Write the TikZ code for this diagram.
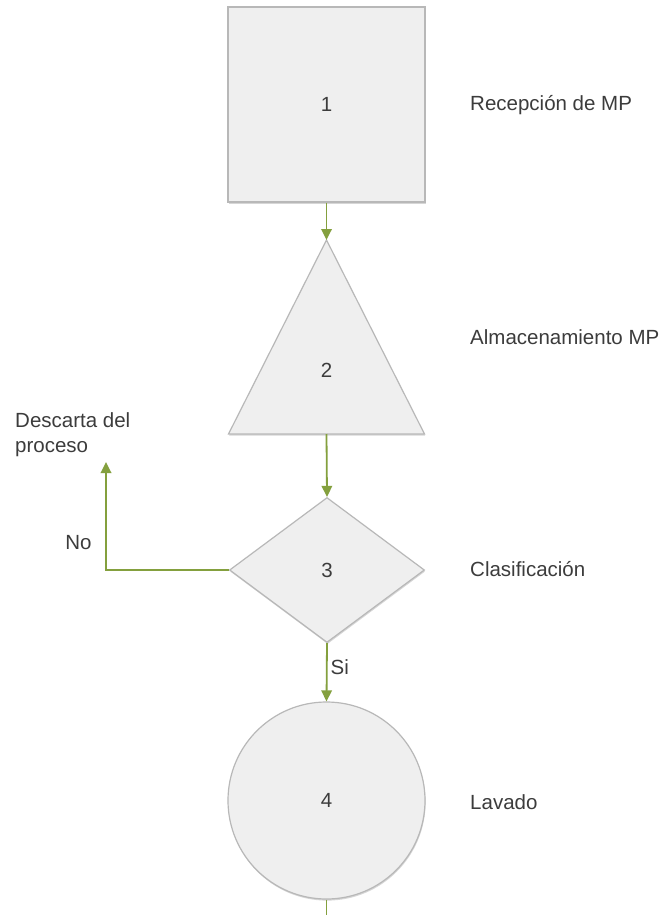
\documentclass[tikz,border=0pt]{standalone}
\usepackage{fontspec}
\setmainfont{Liberation Sans}
\usetikzlibrary{arrows.meta,shapes.geometric,shadows}
\definecolor{flowgreen}{HTML}{84A03E}
\definecolor{shapefill}{HTML}{EFEFEF}
\definecolor{shapeline}{HTML}{B8B8B8}
\definecolor{labeltext}{HTML}{3C3C3C}
\begin{document}
\begin{tikzpicture}[x=1pt,y=-1pt,
  labelfont/.style={font=\fontsize{20.5}{25}\selectfont},
  shapebox/.style={draw=shapeline, fill=shapefill, line width=1.2pt, inner sep=0pt,
    text=labeltext, labelfont,
    drop shadow={shadow xshift=0.6pt, shadow yshift=-1.6pt, fill=black, opacity=0.16}},
  flow/.style={draw=flowgreen, line width=1.8pt, -{Triangle[length=11pt,width=10.5pt]}},
  plainflow/.style={draw=flowgreen, line width=1.8pt},
  caption/.style={text=labeltext, labelfont, inner sep=0pt}
]
\useasboundingbox (0,0) rectangle (665,915);
\fill[white] (0,0) rectangle (665,915);

% step 1: reception (square)
\node[shapebox, rectangle, minimum width=197pt, minimum height=195pt] (s1) at (326.5,104.5) {1};

% step 2: storage (triangle)
\coordinate (t2top) at (326.5,240);
\coordinate (t2base) at (326.5,434);
\filldraw[shapebox] (t2top) -- (424.5,434) -- (228.5,434) -- cycle;
\node[caption] (n2) at (326.5,370) {2};

% step 3: classification (decision)
\node[shapebox, diamond, minimum width=195pt, minimum height=145pt] (d3) at (327,570) {3};

% step 4: washing (circle)
\node[shapebox, circle, minimum size=197pt] (c4) at (326.5,800.5) {4};

% connectors
\coordinate (discard) at (106,462);
\coordinate (exitpt) at (326.5,915);
\draw[flow] (s1.south) -- (t2top);
\draw[flow] (t2base) -- (d3.north);
\draw[flow] (d3.south) -- (c4.north);
\draw[flow] (d3.west) -| (discard);
\draw[plainflow] (c4.south) -- (exitpt);

% branch labels
\node[caption, anchor=west] (si) at (330.5,667) {Si};
\node[caption] (no) at (78.5,543) {No};
\node[caption, anchor=north west, align=left] (descarte) at (15,412.5) {Descarta del\\proceso};

% step names
\node[caption, anchor=base west] (l1) at (470,111) {Recepción de MP};
\node[caption, anchor=base west] (l2) at (470,344) {Almacenamiento MP};
\node[caption, anchor=base west] (l3) at (470,576) {Clasificación};
\node[caption, anchor=base west] (l4) at (470,809) {Lavado};
\end{tikzpicture}
\end{document}
